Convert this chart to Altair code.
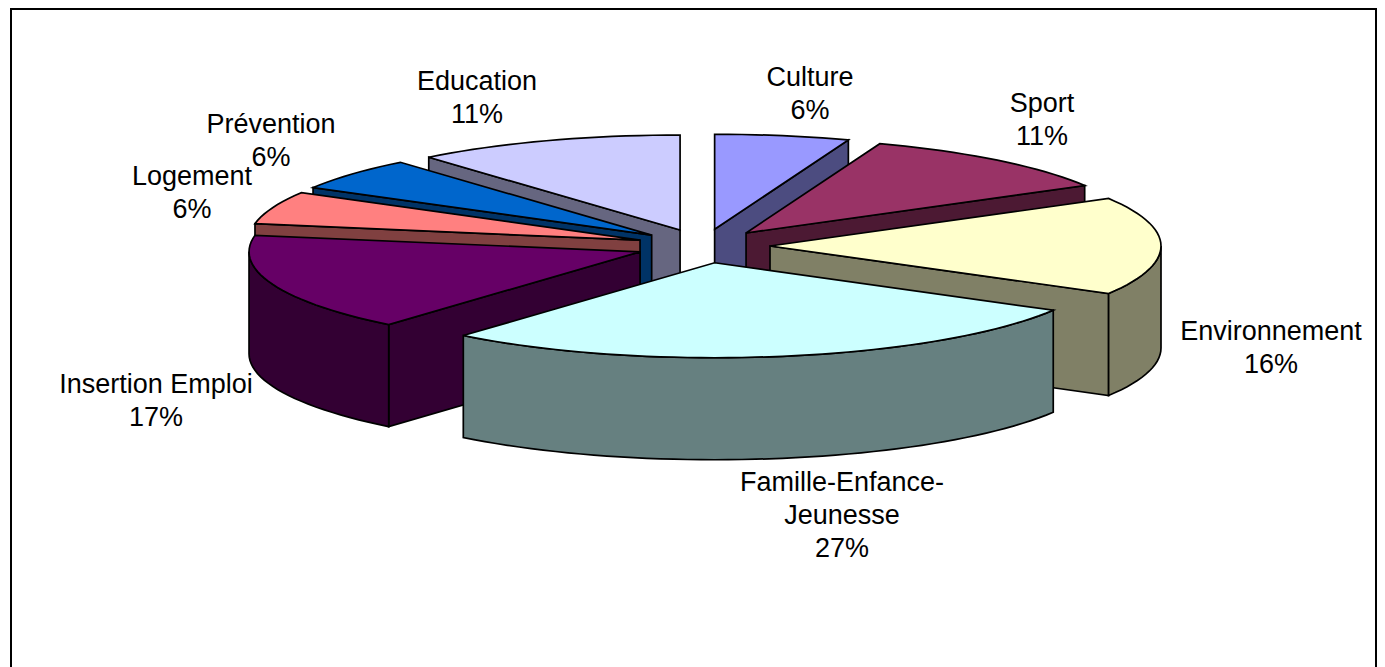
import math
import altair as alt

# ---- data ----
categories = ["Culture", "Sport", "Environnement", "Famille-Enfance-Jeunesse",
              "Insertion Emploi", "Logement", "Prévention", "Education"]
# underlying weights (slice angles measured on the picture, in eighteenths of the pie)
weights = [1, 2, 3, 5, 3, 1, 1, 2]
label_pct = ["6%", "11%", "16%", "27%", "17%", "6%", "6%", "11%"]
label_names = ["Culture", "Sport", "Environnement", "Famille-Enfance-\nJeunesse",
               "Insertion Emploi", "Logement", "Prévention", "Education"]

# ---- styling / layout ----
top_colors = ["#9999FF", "#993366", "#FFFFCC", "#CCFFFF", "#660066", "#FF8080", "#0066CC", "#CCCCFF"]
side_colors = ["#4C4C80", "#4C1933", "#808066", "#668080", "#330033", "#804040", "#003366", "#666680"]
CX, CY, RX, RY = 703.0, 246.0, 391.0, 95.0
EX, EY, DEPTH = 67.0, 17.0, 102.0
draw_order = [7, 0, 1, 6, 5, 2, 4, 3]
label_x = [810, 1042, 1271, 842, 156, 192, 271, 477]
label_y = [78, 104, 332, 483, 385, 177, 125, 82]
FRAME = (11, 9, 1376, 780)
PAGE_W, PAGE_H = 1369, 659


def pt(apex, deg, dz=0.0):
    a = math.radians(deg)
    return [apex[0] + RX * math.sin(a), apex[1] - RY * math.cos(a) + dz]


def arc(apex, d0, d1, dz=0.0):
    n = max(2, int(abs(d1 - d0) / 2) + 1)
    return [pt(apex, d0 + (d1 - d0) * i / (n - 1), dz) for i in range(n)]


def feature(ring, fill):
    ring = [list(p) for p in ring]
    ring.append(ring[0])
    return {"type": "Feature", "properties": {"fill": fill},
            "geometry": {"type": "Polygon", "coordinates": [ring]}}


total = sum(weights)
bounds = [0.0]
for w in weights:
    bounds.append(bounds[-1] + 360.0 * w / total)

frame = [feature([(FRAME[0], FRAME[1]), (FRAME[2], FRAME[1]),
                  (FRAME[2], FRAME[3]), (FRAME[0], FRAME[3])], "#FFFFFF")]

features = []
for i in draw_order:
    d0, d1 = bounds[i], bounds[i + 1]
    mid = math.radians((d0 + d1) / 2)
    apex = (CX + EX * math.sin(mid), CY - EY * math.cos(mid))
    low = [apex[0], apex[1] + DEPTH]
    # radial wall facing the viewer
    if (d0 + d1) / 2 < 160:
        features.append(feature([list(apex), pt(apex, d1), pt(apex, d1, DEPTH), low], side_colors[i]))
    elif (d0 + d1) / 2 > 200:
        features.append(feature([list(apex), pt(apex, d0), pt(apex, d0, DEPTH), low], side_colors[i]))
    # outer wall, front half only
    a0, a1 = max(d0, 90.0), min(d1, 270.0)
    if a1 > a0:
        features.append(feature(arc(apex, a0, a1) + arc(apex, a1, a0, DEPTH), side_colors[i]))
    # top face
    features.append(feature([list(apex)] + arc(apex, d0, d1), top_colors[i]))

frame_mark = alt.Chart(alt.InlineData(values=frame)).mark_geoshape(
    stroke="#000000", strokeWidth=2.0
).encode(fill=alt.Fill("properties.fill:N", scale=None))

shapes = alt.Chart(alt.InlineData(values=features)).mark_geoshape(
    stroke="#000000", strokeWidth=1.7, strokeJoin="miter"
).encode(fill=alt.Fill("properties.fill:N", scale=None))

labels = [{"text": f"{n}\n{p}", "lon": x, "lat": y}
          for n, p, x, y in zip(label_names, label_pct, label_x, label_y)]
text = alt.Chart(alt.InlineData(values=labels)).mark_text(
    font="Liberation Sans", fontSize=27, lineBreak="\n", lineHeight=33,
    align="center", baseline="middle", color="#000000"
).encode(longitude="lon:Q", latitude="lat:Q", text="text:N")

chart = alt.layer(frame_mark, shapes, text).project(
    type="identity", scale=1, translate=[-8, -8]
).properties(
    width=PAGE_W, height=PAGE_H, padding=0,
    autosize=alt.AutoSizeParams(type="none")
).configure_view(stroke=None)

chart.save("out.html", embed_options={"renderer": "svg", "actions": False})
